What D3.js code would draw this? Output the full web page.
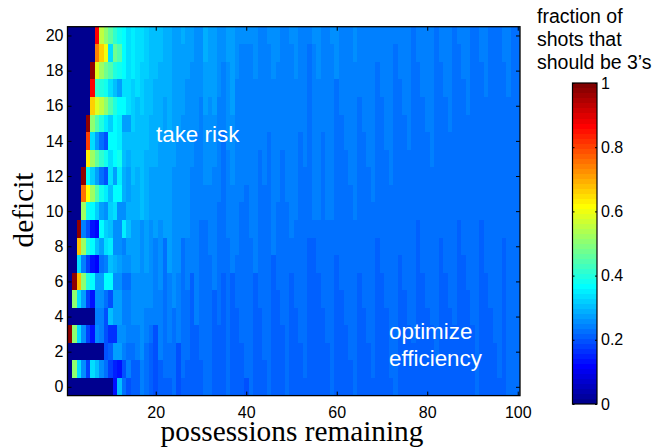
<!DOCTYPE html>
<html>
<head>
<meta charset="utf-8">
<script src="https://cdn.jsdelivr.net/npm/d3@7"></script>
<style>
html, body { margin: 0; padding: 0; background: #fff; }
text { font-family: "Liberation Sans", Arial, sans-serif; fill: #000; }
.serif { font-family: "Liberation Serif", "Times New Roman", serif; }
</style>
</head>
<body>
<svg id="chart" width="655" height="447" style="display:block"></svg>
<script>
// deficit labels from the top row of the picture down to the bottom one
const deficits = d3.range(20, -1, -1);
const xTicks = [20, 40, 60, 80, 100];
const yTicks = [0, 2, 4, 6, 8, 10, 12, 14, 16, 18, 20];
const barTicks = [0, 0.2, 0.4, 0.6, 0.8, 1];

// percent of 3's for possessions 1-14, one line per deficit (20 at the top)
const firstPossessions = [
    [0,0,0,0,0,0,86,56,50,46,42,38,37,34],
    [0,0,0,0,0,0,74,66,60,33,47,44,37,34],
    [0,0,0,0,0,97,58,52,48,44,40,38,36,34],
    [0,0,0,0,0,86,42,40,38,33,30,27,34,34],
    [0,0,0,0,0,67,58,55,50,45,40,37,37,34],
    [0,0,0,0,98,50,44,40,35,32,37,35,27,27],
    [0,0,0,0,80,33,28,22,19,36,36,35,30,30],
    [0,0,0,0,63,52,46,42,38,33,36,38,30,29],
    [0,0,0,97,36,32,27,22,19,33,28,35,29,27],
    [0,0,0,76,62,52,45,39,35,30,37,36,29,27],
    [0,0,0,52,38,36,32,28,25,32,34,26,26,29],
    [0,0,98,24,19,13,12,37,32,30,25,25,35,30],
    [0,0,68,52,40,37,31,27,34,35,26,26,24,27],
    [0,0,34,24,18,13,12,22,24,30,29,27,26,26],
    [0,98,68,50,40,36,28,27,36,36,26,26,23,23],
    [0,50,34,27,18,14,26,26,22,20,27,27,24,24],
    [0,0,0,0,0,0,24,24,20,30,27,27,24,24],
    [98,50,34,26,18,14,25,24,20,16,16,26,26,24],
    [0,0,0,0,0,0,0,0,20,21,27,27,24,23],
    [0,50,34,25,18,34,30,26,22,18,15,14,20,24],
    [0,0,0,0,0,0,0,0,0,0,13,30,23,20]
];

// possessions 15-100, one line per possession, read from the top row down
// as value, how many rows, value, how many rows... last value runs to the bottom
const laterPossessions = [
    [35,3,32,3,30,3,29,2,27,3,26,3,24,1,23,1,21],
    [33,4,30,4,29,3,27,3,26,3,24,2,21],
    [33,2,32,3,30,6,26,8,24],
    [32,3,30,4,29,4,27,3,26,2,24,2,23],
    [30,5,29,3,27,3,26,5,24,1,23,1,21],
    [30,3,29,5,27,4,24,5,20],
    [30,2,29,4,27,5,26,4,24,4,21],
    [29,4,27,8,23,8,21],
    [29,6,27,8,24,4,23,2,21],
    [27,8,26,8,23],
    [27,6,26,8,24,4,20],
    [29,1,27,4,26,7,23,8,21],
    [27,3,26,9,24,3,23,4,21],
    [27,2,26,6,24,6,21],
    [26,6,24,11,21],
    [26,4,24,7,23,8,21],
    [29,2,27,3,26,4,24,2,23],
    [27,4,26,5,24,4,23],
    [27,5,26,3,24,7,21],
    [26,4,24,6,23,7,21],
    [26,2,24,4,23,8,21],
    [27,2,26,5,24,5,23],
    [27,5,26,4,24,5,21],
    [26,3,24,10,23,3,21],
    [26,1,24,9,23,8,21],
    [26,1,24,8,23,11,20],
    [26,1,24,11,23],
    [26,3,24,11,21],
    [24,7,23,9,21],
    [24,9,23,10,21],
    [26,1,24,5,23],
    [26,3,24,10,21],
    [26,2,24,8,23,5,21],
    [24,7,23,10,21],
    [24,10,23],
    [26,1,24,11,23,2,21],
    [26,3,24,8,23,5,21],
    [24,6,23,12,21],
    [24,8,23,12,21],
    [24,1,23,11,21],
    [26,1,24,10,23,1,21],
    [26,3,24,8,23,3,21],
    [24,6,23,10,21],
    [24,11,23,7,21],
    [26,1,24,10,23],
    [26,3,23,10,21],
    [24,5,23,10,21],
    [24,7,23,10,21],
    [24,9,23,10,21],
    [26,2,24,9,23],
    [24,4,23,10,21],
    [24,6,23,10,21],
    [24,8,23,10,21],
    [24,10,23,10,21],
    [24,2,23,10,21],
    [24,4,23,10,21],
    [24,7,23,9,21],
    [24,9,23,11,21],
    [24,1,23],
    [24,3,23,10,21],
    [24,5,23,10,21],
    [24,7,23,10,21],
    [23,18,21],
    [24,2,23,9,21],
    [24,4,23,10,21],
    [24,6,23,10,21],
    [24,8,23,9,21],
    [23,19,21],
    [24,2,23,10,21],
    [24,4,23,10,21],
    [24,6,23,10,21],
    [23,17,21],
    [24,1,23,10,21],
    [24,3,23,10,21],
    [24,5,23,10,21],
    [23,17,21],
    [23],
    [24,2,23,9,21],
    [24,4,23,10,21],
    [23,16,21],
    [23,18,21],
    [23,20,21],
    [24,2,23,10,21],
    [24,4,23],
    [23],
    [23]
];

function expandRuns(runs) {
    const out = [];
    for (let i = 0; i < runs.length; i += 2) {
        const n = i + 1 < runs.length ? runs[i + 1] : deficits.length - out.length;
        for (let k = 0; k < n; k++) out.push(runs[i]);
    }
    return out;
}

const cells = [];
firstPossessions.forEach((row, r) => {
    row.forEach((v, c) => cells.push({ possession: c + 1, deficit: deficits[r], value: v / 100 }));
});
laterPossessions.forEach((runs, c) => {
    expandRuns(runs).forEach((v, r) => {
        cells.push({ possession: c + 15, deficit: deficits[r], value: v / 100 });
    });
});

// same 64 steps as matlab's jet
const jet = d3.range(1, 65).map(i => {
    const clamp = t => Math.max(0, Math.min(1, t)) * 255;
    const r = Math.min(i - 24, 72 - i) / 16;
    const g = Math.min(i - 8, 56 - i) / 16;
    const b = Math.min(i + 8, 40 - i) / 16;
    return d3.rgb(clamp(r), clamp(g), clamp(b)).formatHex();
});
const color = d3.scaleQuantize().domain([0, 1]).range(jet);

const plot = { left: 67.5, right: 520, top: 26.7, bottom: 395.6 };
const bar = { left: 572.5, right: 597, top: 83, bottom: 404 };

const svg = d3.select("#chart");

const x = d3.scaleLinear().domain([0.5, 100.5]).range([plot.left, plot.right]);
const y = d3.scaleLinear().domain([-0.5, 20.5]).range([plot.bottom, plot.top]);

svg.append("g").attr("shape-rendering", "crispEdges").selectAll("rect")
    .data(cells)
    .enter().append("rect")
    .attr("x", d => x(d.possession - 0.5))
    .attr("y", d => y(d.deficit + 0.5))
    .attr("width", x(1.5) - x(0.5) + 0.4)
    .attr("height", y(0) - y(1) + 0.4)
    .attr("fill", d => color(d.value));

function styleAxis(g) {
    g.select(".domain").remove();
    g.selectAll("line").attr("stroke", "#000").attr("stroke-width", 1);
    g.selectAll("text").style("font-size", "16px").attr("fill", "#000");
}

svg.append("g")
    .attr("transform", `translate(0,${plot.bottom})`)
    .call(d3.axisBottom(x).tickValues(xTicks).tickSizeInner(-4).tickPadding(11))
    .call(styleAxis);
svg.append("g")
    .attr("transform", `translate(0,${plot.top})`)
    .call(d3.axisTop(x).tickValues(xTicks).tickSizeInner(-4).tickFormat(""))
    .call(styleAxis);
svg.append("g")
    .attr("transform", `translate(${plot.left},0)`)
    .call(d3.axisLeft(y).tickValues(yTicks).tickSizeInner(-4).tickPadding(4))
    .call(styleAxis);
svg.append("g")
    .attr("transform", `translate(${plot.right},0)`)
    .call(d3.axisRight(y).tickValues(yTicks).tickSizeInner(-4).tickFormat(""))
    .call(styleAxis);

svg.append("rect")
    .attr("x", plot.left).attr("y", plot.top)
    .attr("width", plot.right - plot.left).attr("height", plot.bottom - plot.top)
    .attr("fill", "none").attr("stroke", "#000").attr("stroke-width", 1.3);

svg.append("text").attr("class", "serif")
    .attr("x", 292).attr("y", 441)
    .attr("text-anchor", "middle").style("font-size", "29.3px")
    .text("possessions remaining");
svg.append("text").attr("class", "serif")
    .attr("transform", "translate(33,210) rotate(-90)")
    .attr("text-anchor", "middle").style("font-size", "29.3px")
    .text("deficit");

const notes = [
    { text: "take risk", px: 156, py: 142 },
    { text: "optimize", px: 389, py: 339 },
    { text: "efficiency", px: 389, py: 366 }
];
svg.selectAll(".note")
    .data(notes)
    .enter().append("text")
    .attr("class", "note")
    .attr("x", d => d.px).attr("y", d => d.py)
    .style("font-size", "22.4px").style("fill", "#fff")
    .text(d => d.text);

// colorbar
const barScale = d3.scaleLinear().domain([0, 1]).range([bar.bottom, bar.top]);
svg.append("g").attr("shape-rendering", "crispEdges").selectAll("rect")
    .data(jet)
    .enter().append("rect")
    .attr("x", bar.left)
    .attr("y", (d, i) => barScale((i + 1) / jet.length))
    .attr("width", bar.right - bar.left)
    .attr("height", barScale(0) - barScale(1 / jet.length) + 0.4)
    .attr("fill", d => d);

svg.append("g")
    .attr("transform", `translate(${bar.right},0)`)
    .call(d3.axisRight(barScale).tickValues(barTicks).tickSizeInner(-2).tickPadding(4).tickFormat(d3.format("~g")))
    .call(styleAxis);
svg.append("g")
    .attr("transform", `translate(${bar.left},0)`)
    .call(d3.axisLeft(barScale).tickValues(barTicks).tickSizeInner(-2).tickFormat(""))
    .call(styleAxis);
svg.append("rect")
    .attr("x", bar.left).attr("y", bar.top)
    .attr("width", bar.right - bar.left).attr("height", bar.bottom - bar.top)
    .attr("fill", "none").attr("stroke", "#000").attr("stroke-width", 1.2);

const barTitle = ["fraction of", "shots that", "should be 3\u2019s"];
svg.selectAll(".bar-title")
    .data(barTitle)
    .enter().append("text")
    .attr("class", "bar-title")
    .attr("x", 537)
    .attr("y", (d, i) => 23 + i * 23)
    .style("font-size", "19.5px")
    .text(d => d);
</script>
</body>
</html>
